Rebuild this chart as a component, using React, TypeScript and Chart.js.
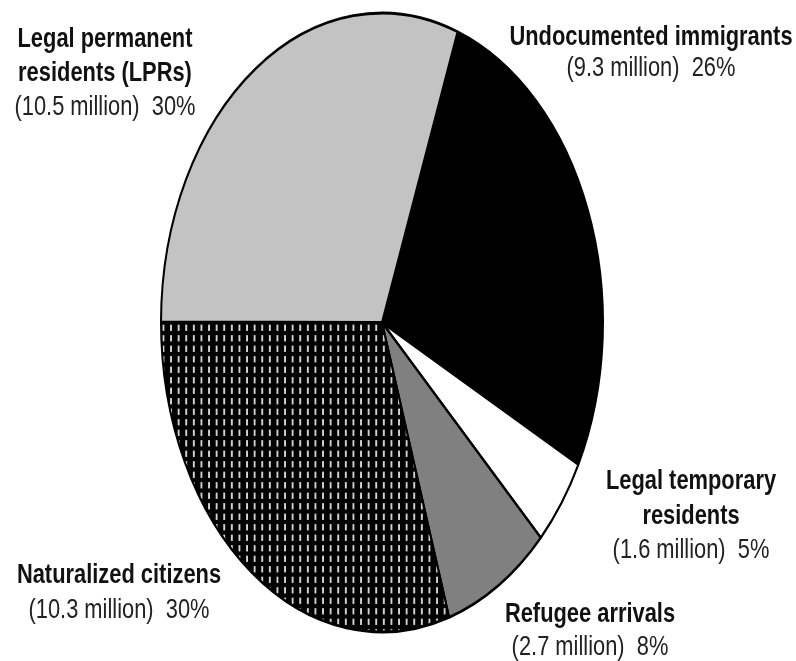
import { useEffect, useRef } from "react";
import { Chart, registerables } from "chart.js";

Chart.register(...registerables);

// ---- data ----
const categories = [
  "Undocumented immigrants",
  "Legal temporary residents",
  "Refugee arrivals",
  "Naturalized citizens",
  "Legal permanent residents (LPRs)",
];
const millions = [9.3, 1.6, 2.7, 10.3, 10.5];
const percents = [26, 5, 8, 30, 30];
const nameLines = [
  ["Undocumented immigrants"],
  ["Legal temporary", "residents"],
  ["Refugee arrivals"],
  ["Naturalized citizens"],
  ["Legal permanent", "residents (LPRs)"],
];

// ---- layout (page coords: centre x, baselines) ----
const labelAnchors = [
  { x: 651, y: [45, 76] },
  { x: 691, y: [489, 524, 558] },
  { x: 590, y: [622, 655] },
  { x: 119, y: [583, 618] },
  { x: 105, y: [47, 81, 115] },
];
const STRETCH_Y = 1.4;
const FONT = '"Liberation Sans", Arial, sans-serif';

function makeHatch(): CanvasPattern | string {
  const c = document.createElement("canvas");
  c.width = 8;
  c.height = 10;
  const g = c.getContext("2d")!;
  g.fillStyle = "#000";
  g.fillRect(0, 0, 8, 10);
  g.fillStyle = "#d2d2d2";
  g.fillRect(3, 2, 2, 6);
  const p = g.createPattern(c, "repeat");
  if (!p) return "#222";
  try {
    p.setTransform(new DOMMatrix([0.95, 0, 0, 0.75, 0, 0]));
  } catch (e) {}
  return p;
}

const ellipsePlugin = {
  id: "ellipse",
  beforeDatasetsDraw(chart: any) {
    const arc = chart.getDatasetMeta(0).data[0];
    const ctx = chart.ctx;
    ctx.save();
    ctx.translate(arc.x, arc.y);
    ctx.scale(1, STRETCH_Y);
    ctx.translate(-arc.x, -arc.y);
  },
  afterDatasetsDraw(chart: any) {
    chart.ctx.restore();
  },
};

const labelPlugin = {
  id: "labels",
  afterDraw(chart: any) {
    const ctx = chart.ctx;
    categories.forEach((_, i) => {
      const lines = [...nameLines[i], `(${millions[i]} million)  ${percents[i]}%`];
      const a = labelAnchors[i];
      lines.forEach((t, j) => {
        const bold = j < nameLines[i].length;
        ctx.save();
        ctx.font = `${bold ? "bold " : ""}27px ${FONT}`;
        ctx.fillStyle = bold ? "#111" : "#222";
        ctx.textAlign = "center";
        ctx.textBaseline = "alphabetic";
        ctx.translate(a.x, a.y[j]);
        ctx.scale(0.81, 1);
        ctx.fillText(t, 0, 0);
        ctx.restore();
      });
    });
  },
};

export default function App() {
  const ref = useRef<HTMLCanvasElement>(null);
  useEffect(() => {
    if (!ref.current) return;
    const colors = ["#000000", "#ffffff", "#808080", makeHatch(), "#c3c3c3"];
    const chart = new Chart(ref.current, {
      type: "pie",
      data: {
        labels: categories,
        datasets: [
          {
            data: millions,
            backgroundColor: colors as any,
            borderColor: "#000",
            borderWidth: 2,
          },
        ],
      },
      options: {
        animation: false,
        responsive: true,
        maintainAspectRatio: false,
        rotation: 20,
        radius: 221,
        layout: { padding: { left: 161, right: 193, top: 101.5, bottom: 117.5 } },
        plugins: {
          legend: { display: false },
          tooltip: { enabled: false },
        },
        events: [],
      },
      plugins: [ellipsePlugin, labelPlugin],
    });
    return () => chart.destroy();
  }, []);
  return (
    <div
      style={{
        position: "absolute",
        left: 0,
        top: 0,
        width: 796,
        height: 661,
        background: "#fff",
        overflow: "hidden",
      }}
    >
      <canvas ref={ref} />
    </div>
  );
}
